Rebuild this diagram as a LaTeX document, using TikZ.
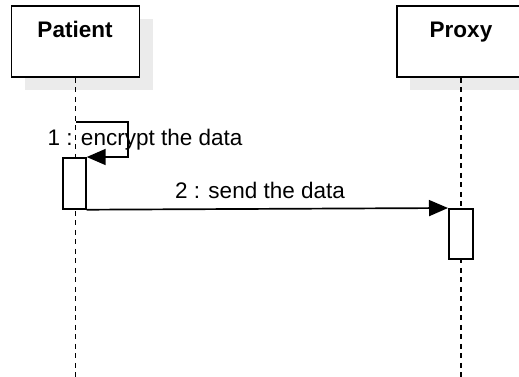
\documentclass[tikz,border=0pt]{standalone}
\usepackage{fontspec}
\setmainfont{Liberation Sans}
\usetikzlibrary{arrows.meta,shadows}
\begin{document}
\begin{tikzpicture}[x=1pt,y=-1pt,
  actor/.style={draw, line width=1.9pt, fill=white, minimum width=128pt, minimum height=71pt, inner sep=0pt,
    drop shadow={shadow xshift=13pt, shadow yshift=-13pt, fill=black!8, opacity=1}},
  actortext/.style={font=\fontsize{22.5}{27}\selectfont\bfseries, anchor=base, inner sep=0pt},
  lifeline/.style={line width=1.6pt, dash pattern=on 5pt off 4.5pt},
  activation/.style={draw, line width=1.7pt, fill=white, minimum width=23pt, minimum height=51pt, inner sep=0pt, anchor=north west},
  msg/.style={line width=1.7pt, -{Triangle[length=19pt,width=16pt]}},
  msglabel/.style={font=\fontsize{22.5}{27}\selectfont, anchor=base, inner sep=0pt}]
\useasboundingbox (0,0) rectangle (519,376);

% participants
\node[actor] (patient) at (75.5,41.5) {};
\node[actor] (proxy) at (461,41.5) {};
\node[actortext] (patientname) at (75,37) {Patient};
\node[actortext] (proxyname) at (461,37) {Proxy};

% lifelines
\coordinate (patientend) at (75.5,380);
\coordinate (proxyend) at (461,380);
\draw[lifeline] (patient.south) -- (patientend);
\draw[lifeline] (proxy.south) -- (proxyend);

% activation bars
\node[activation] (patientact) at (62,157) {};
\node[activation, minimum width=24pt, minimum height=50pt] (proxyact) at (448,208) {};

% self message
\coordinate (selfstart) at (75.5,122);
\draw[msg] (selfstart) -- (128,122) -- (128,157) -- (patientact.north east);
\node[msglabel] (msgone) at (145,145) {1 : encrypt the data};

% message to proxy
\draw[msg] (patientact.south east) -- (proxyact.north west);
\node[msglabel] (msgtwo) at (260,198) {2 : send the data};
\end{tikzpicture}
\end{document}
